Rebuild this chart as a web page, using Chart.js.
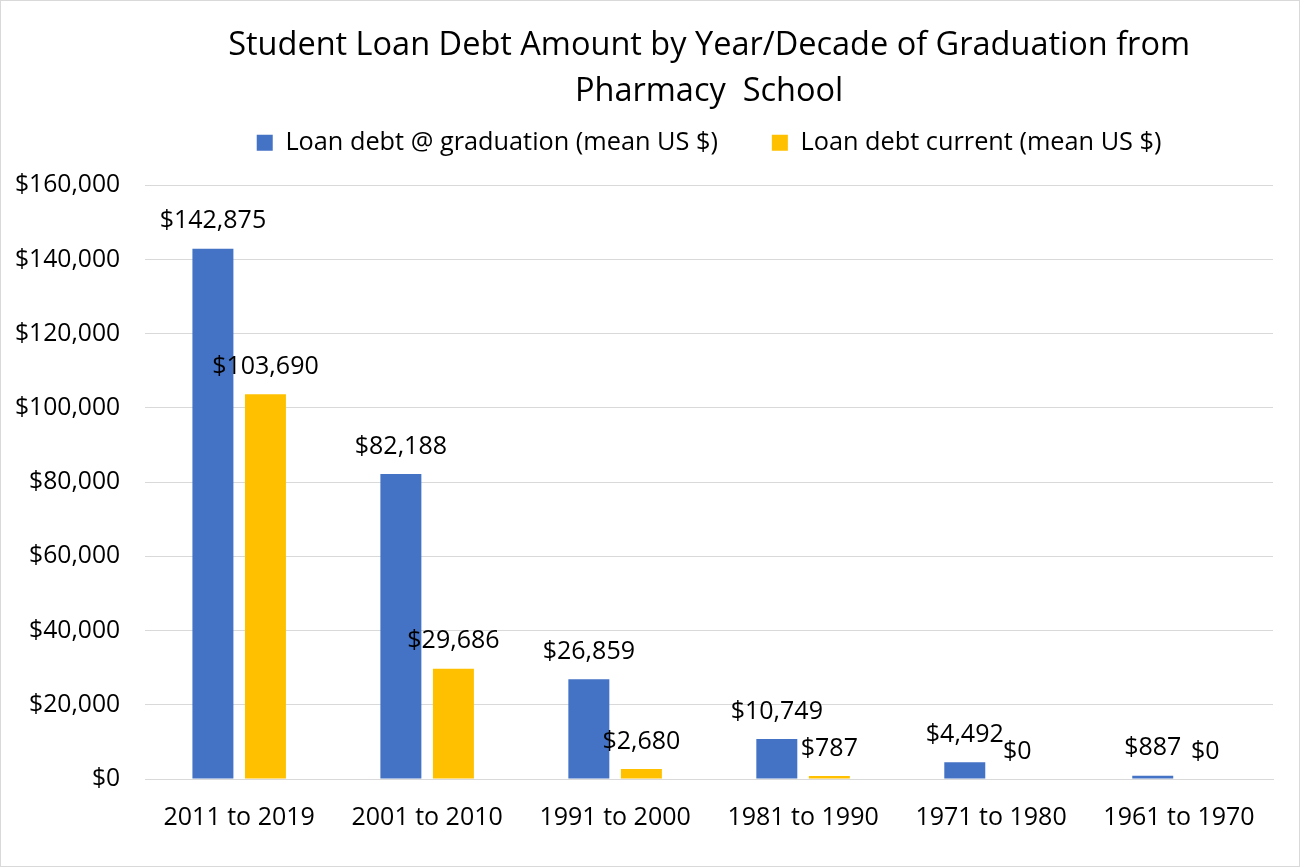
<!DOCTYPE html>
<html>
<head>
<meta charset="utf-8">
<script src="https://cdn.jsdelivr.net/npm/chart.js@4/dist/chart.umd.min.js"></script>
<style>
  html, body { margin: 0; padding: 0; background: #fff; }
  #wrap { width: 1298px; height: 865px; border: 1px solid #d9d9d9; }
</style>
</head>
<body>
<div id="wrap"><canvas id="chart" width="1298" height="865"></canvas></div>
<script>
var categories = ["2011 to 2019", "2001 to 2010", "1991 to 2000", "1981 to 1990", "1971 to 1980", "1961 to 1970"];
var debtAtGrad = [142875, 82188, 26859, 10749, 4492, 887];
var debtCurrent = [103690, 29686, 2680, 787, 0, 0];
var seriesNames = ["Loan debt @ graduation (mean US $)", "Loan debt current (mean US $)"];
var titleLines = ["Student Loan Debt Amount by Year/Decade of Graduation from", "Pharmacy  School"];

var FONT = "'Open Sans', sans-serif";

function money(v) {
    return "$" + v.toLocaleString("en-US");
}

// draws the value above each bar
var barLabels = {
    id: "barLabels",
    afterDatasetsDraw: function(chart) {
        var ctx = chart.ctx;
        ctx.save();
        ctx.font = "25px " + FONT;
        ctx.fillStyle = "#000";
        ctx.textAlign = "center";
        ctx.textBaseline = "bottom";
        chart.data.datasets.forEach(function(ds, i) {
            chart.getDatasetMeta(i).data.forEach(function(bar, j) {
                ctx.fillText(money(ds.data[j]), bar.x, bar.y - 15);
            });
        });
        ctx.restore();
    }
};

// extra room under the legend
var legendSpace = {
    id: "legendSpace",
    beforeInit: function(chart) {
        var fit = chart.legend.fit;
        chart.legend.fit = function() {
            fit.bind(chart.legend)();
            this.height += 20;
        };
    }
};

new Chart(document.getElementById("chart").getContext("2d"), {
    type: "bar",
    data: {
        labels: categories,
        datasets: [
            { label: seriesNames[0], data: debtAtGrad, backgroundColor: "#4472c4" },
            { label: seriesNames[1], data: debtCurrent, backgroundColor: "#ffc000" }
        ]
    },
    options: {
        responsive: false,
        animation: false,
        layout: { padding: { left: -11, right: 26, top: 22, bottom: 17 } },
        datasets: { bar: { categoryPercentage: 0.559, barPercentage: 0.78 } },
        plugins: {
            title: {
                display: true,
                fullSize: false,
                text: titleLines,
                color: "#000",
                font: { family: FONT, size: 32.5, weight: "normal", lineHeight: 1.4 },
                padding: { top: 0, bottom: -38 }
            },
            legend: {
                fullSize: false,
                labels: {
                    color: "#000",
                    font: { family: FONT, size: 25.3 },
                    boxWidth: 16,
                    boxHeight: 16,
                    padding: 54
                }
            },
            tooltip: { enabled: false }
        },
        scales: {
            x: {
                grid: { display: false },
                border: { color: "#d9d9d9" },
                ticks: { color: "#000", font: { family: FONT, size: 25 }, padding: 16 }
            },
            y: {
                min: 0,
                max: 160000,
                grid: { color: "#d9d9d9", drawTicks: false },
                border: { display: false },
                ticks: {
                    stepSize: 20000,
                    color: "#000",
                    font: { family: FONT, size: 24.7 },
                    padding: 25,
                    callback: function(v) { return money(v); }
                }
            }
        }
    },
    plugins: [barLabels, legendSpace]
});
</script>
</body>
</html>
